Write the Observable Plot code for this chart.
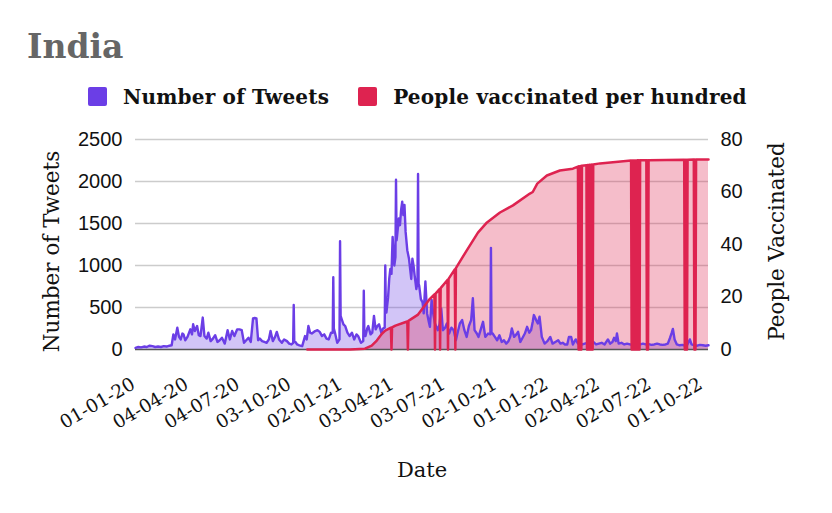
<!DOCTYPE html>
<html><head><meta charset="utf-8">
<script src="https://cdn.jsdelivr.net/npm/d3@7"></script>
<script src="https://cdn.jsdelivr.net/npm/@observablehq/plot@0.6"></script>
<style>
body{margin:0;background:#fff;width:832px;height:513px;position:relative;overflow:hidden}
#title{position:absolute;left:27px;top:30px;font:bold 33px/1 "DejaVu Serif";color:#666}
#legend{position:absolute;left:88px;top:87px;display:flex;align-items:center;height:19px}
.sw{width:19px;height:19px;border-radius:2px;margin-right:16px}
.lt{font:bold 20px/1 "DejaVu Serif";letter-spacing:0.2px;color:#111;margin-right:29px;white-space:nowrap}
#chart{position:absolute;left:0;top:120px}
</style></head><body>
<div id="title">India</div>
<div id="legend"></div>
<div id="chart"></div>
<script>
const seriesNames = ["Number of Tweets", "People vaccinated per hundred"];
const seriesColors = ["#6b3ee6", "#de2350"];

const tweetDates = ["2020-01-01","2020-01-06","2020-01-11","2020-01-16","2020-01-21","2020-01-26","2020-01-31","2020-02-05","2020-02-10","2020-02-15","2020-02-20","2020-02-25","2020-03-01","2020-03-05","2020-03-08","2020-03-11","2020-03-15","2020-03-18","2020-03-21","2020-03-24","2020-03-26","2020-03-29","2020-04-02","2020-04-07","2020-04-10","2020-04-12","2020-04-15","2020-04-19","2020-04-22","2020-04-25","2020-04-29","2020-05-02","2020-05-06","2020-05-09","2020-05-13","2020-05-17","2020-05-21","2020-05-25","2020-05-29","2020-06-02","2020-06-07","2020-06-12","2020-06-16","2020-06-20","2020-06-24","2020-06-29","2020-07-03","2020-07-07","2020-07-11","2020-07-15","2020-07-19","2020-07-23","2020-07-27","2020-07-30","2020-08-02","2020-08-05","2020-08-08","2020-08-12","2020-08-16","2020-08-20","2020-08-24","2020-08-27","2020-08-31","2020-09-04","2020-09-07","2020-09-11","2020-09-16","2020-09-20","2020-09-25","2020-09-29","2020-10-03","2020-10-06","2020-10-07","2020-10-08","2020-10-10","2020-10-13","2020-10-17","2020-10-22","2020-10-27","2020-10-30","2020-11-02","2020-11-05","2020-11-08","2020-11-14","2020-11-18","2020-11-22","2020-11-26","2020-11-30","2020-12-04","2020-12-08","2020-12-12","2020-12-15","2020-12-16","2020-12-17","2020-12-19","2020-12-23","2020-12-27","2020-12-28","2020-12-29","2020-12-31","2021-01-03","2021-01-06","2021-01-10","2021-01-14","2021-01-18","2021-01-22","2021-01-26","2021-01-29","2021-02-03","2021-02-07","2021-02-08","2021-02-09","2021-02-11","2021-02-14","2021-02-16","2021-02-20","2021-02-23","2021-02-26","2021-03-01","2021-03-04","2021-03-07","2021-03-11","2021-03-14","2021-03-17","2021-03-18","2021-03-19","2021-03-20","2021-03-23","2021-03-25","2021-03-27","2021-03-29","2021-03-31","2021-04-03","2021-04-05","2021-04-06","2021-04-07","2021-04-08","2021-04-11","2021-04-13","2021-04-15","2021-04-17","2021-04-19","2021-04-21","2021-04-23","2021-04-26","2021-04-29","2021-05-03","2021-05-05","2021-05-07","2021-05-09","2021-05-12","2021-05-14","2021-05-15","2021-05-16","2021-05-17","2021-05-20","2021-05-23","2021-05-25","2021-05-28","2021-05-31","2021-06-03","2021-06-05","2021-06-08","2021-06-11","2021-06-14","2021-06-19","2021-06-22","2021-06-25","2021-06-28","2021-07-02","2021-07-05","2021-07-09","2021-07-13","2021-07-17","2021-07-21","2021-07-24","2021-07-28","2021-08-01","2021-08-05","2021-08-09","2021-08-13","2021-08-17","2021-08-20","2021-08-23","2021-08-27","2021-08-30","2021-09-03","2021-09-07","2021-09-11","2021-09-16","2021-09-20","2021-09-21","2021-09-22","2021-09-24","2021-09-28","2021-10-02","2021-10-06","2021-10-10","2021-10-14","2021-10-18","2021-10-22","2021-10-25","2021-10-28","2021-11-01","2021-11-05","2021-11-08","2021-11-12","2021-11-16","2021-11-20","2021-11-24","2021-11-28","2021-12-01","2021-12-04","2021-12-06","2021-12-10","2021-12-13","2021-12-16","2021-12-20","2021-12-25","2021-12-30","2022-01-04","2022-01-08","2022-01-13","2022-01-18","2022-01-22","2022-01-26","2022-01-30","2022-02-03","2022-02-06","2022-02-10","2022-02-13","2022-02-18","2022-02-22","2022-02-26","2022-03-02","2022-03-06","2022-03-11","2022-03-16","2022-03-21","2022-03-26","2022-03-31","2022-04-05","2022-04-10","2022-04-16","2022-04-20","2022-04-24","2022-04-27","2022-04-30","2022-05-02","2022-05-05","2022-05-10","2022-05-15","2022-05-20","2022-05-25","2022-05-30","2022-06-03","2022-06-05","2022-06-06","2022-06-07","2022-06-08","2022-06-12","2022-06-17","2022-06-22","2022-06-27","2022-07-02","2022-07-07","2022-07-12","2022-07-17","2022-07-22","2022-07-27","2022-07-31","2022-08-04","2022-08-07","2022-08-09","2022-08-12","2022-08-16","2022-08-21","2022-08-26","2022-08-30","2022-09-03","2022-09-08","2022-09-11","2022-09-16","2022-09-21","2022-09-26","2022-10-01","2022-10-06","2022-10-11"];
const tweetCounts = [20,30,25,35,30,45,40,30,35,30,40,35,45,50,180,120,260,150,120,190,180,110,150,240,180,300,220,280,170,160,380,160,130,200,100,130,170,90,110,140,70,230,120,220,160,240,240,230,80,110,140,90,370,375,370,110,130,100,90,80,120,220,100,150,210,120,80,120,100,70,60,80,530,90,90,60,50,40,160,120,280,200,190,220,230,210,160,180,130,120,200,200,860,250,200,80,120,1290,400,360,300,280,200,160,200,120,180,160,80,100,700,200,160,250,280,180,200,400,240,280,300,200,250,260,1000,500,440,620,840,960,900,1340,1000,1100,2020,1300,1360,1560,1480,1660,1760,1600,1720,1400,1180,1080,840,1080,1000,880,720,800,2090,780,760,600,560,430,810,430,330,270,590,420,310,230,300,490,230,260,310,190,260,230,110,200,310,350,230,150,280,350,610,230,190,150,240,330,150,190,180,1210,200,190,150,110,170,90,110,70,100,150,250,150,180,210,90,140,190,270,200,230,330,410,350,310,390,150,70,100,150,70,90,110,70,80,60,60,150,150,60,120,70,80,60,70,80,60,90,60,70,80,60,120,70,90,140,100,190,70,80,60,70,60,60,80,70,620,90,80,60,70,60,65,55,60,70,60,55,60,70,140,200,245,120,60,50,55,45,50,120,60,50,45,55,50,45,50];

const vaccDates = ["2020-10-31","2021-01-15","2021-02-10","2021-02-22","2021-03-03","2021-03-12","2021-03-18","2021-03-28","2021-03-29","2021-03-30","2021-04-05","2021-04-22","2021-04-26","2021-04-27","2021-04-28","2021-05-15","2021-05-26","2021-06-05","2021-06-13","2021-06-14","2021-06-15","2021-06-22","2021-06-23","2021-06-24","2021-07-06","2021-07-07","2021-07-08","2021-07-19","2021-07-20","2021-07-21","2021-08-09","2021-08-29","2021-09-14","2021-10-07","2021-10-30","2021-11-29","2021-12-04","2021-12-12","2021-12-29","2022-01-21","2022-02-13","2022-02-22","2022-02-23","2022-02-24","2022-02-26","2022-02-27","2022-02-28","2022-03-01","2022-03-09","2022-03-10","2022-03-11","2022-03-12","2022-03-13","2022-03-14","2022-03-15","2022-03-16","2022-03-17","2022-03-18","2022-03-19","2022-03-20","2022-03-21","2022-04-02","2022-05-27","2022-05-28","2022-05-29","2022-05-30","2022-05-31","2022-06-01","2022-06-02","2022-06-03","2022-06-04","2022-06-05","2022-06-06","2022-06-07","2022-06-08","2022-06-09","2022-06-10","2022-06-11","2022-06-12","2022-06-23","2022-06-24","2022-06-25","2022-06-26","2022-06-27","2022-08-29","2022-08-30","2022-08-31","2022-09-01","2022-09-02","2022-09-03","2022-09-04","2022-09-15","2022-09-16","2022-09-17","2022-09-18","2022-09-19","2022-10-11"];
const vaccValues = [0,0,0.3,1.5,3.4,6.0,7.2,8.3,0,8.4,9.1,10.4,10.7,0,10.9,13.3,16.5,19.3,21.0,0,21.3,23.0,0,23.4,26.5,0,26.9,30.5,0,31.0,37.7,44.5,48.4,52.2,54.9,59.4,60.0,63.2,66.3,68.2,68.9,69.7,0,69.8,0,69.9,0,70.0,70.2,0,70.3,0,70.3,0,70.4,0,70.4,0,70.5,0,70.5,70.9,72.0,0,72.0,0,72.0,0,72.0,0,72.0,0,72.0,0,72.1,0,72.1,0,72.1,72.1,0,72.1,0,72.1,72.3,0,72.3,0,72.3,0,72.3,72.4,0,72.4,0,72.4,72.4];

const leftTicks = [0, 500, 1000, 1500, 2000, 2500];
const rightTicks = [0, 20, 40, 60, 80];
const xTickDates = ["2020-01-01","2020-04-04","2020-07-04","2020-10-03","2021-01-02","2021-04-03","2021-07-03","2021-10-02","2022-01-01","2022-04-02","2022-07-02","2022-10-01"];
const xTickLabels = ["01-01-20","04-04-20","04-07-20","03-10-20","02-01-21","03-04-21","03-07-21","02-10-21","01-01-22","02-04-22","02-07-22","01-10-22"];
const xDomain = ["2020-01-01", "2022-10-11"];
const axisTitles = {left: "Number of Tweets", right: "People Vaccinated", bottom: "Date"};

const parse = d3.utcParse("%Y-%m-%d");
const k = leftTicks[leftTicks.length - 1] / rightTicks[rightTicks.length - 1];
const tweets = tweetDates.map((d, i) => ({date: parse(d), n: tweetCounts[i]}));
const vacc = vaccDates.map((d, i) => ({date: parse(d), v: vaccValues[i]}));
const xticks = xTickDates.map((d, i) => ({date: parse(d), label: xTickLabels[i]}));
const vy = d => d.v == null ? NaN : d.v * k;

const legend = document.getElementById("legend");
seriesNames.forEach((name, i) => {
  const sw = document.createElement("div");
  sw.className = "sw"; sw.style.background = seriesColors[i];
  const t = document.createElement("div");
  t.className = "lt"; t.textContent = name;
  legend.append(sw, t);
});

const serif = "DejaVu Serif";
const chart = Plot.plot({
  width: 832, height: 393,
  marginLeft: 135, marginRight: 124, marginTop: 19, marginBottom: 164,
  x: {type: "utc", domain: xDomain.map(parse), axis: null},
  y: {domain: [0, 2500]},
  style: {fontFamily: "Liberation Sans", fontSize: "20px", color: "#111", background: "#fff", overflow: "visible"},
  marks: [
    Plot.gridY(leftTicks.filter(t => t > 0), {stroke: "#cccccc", strokeOpacity: 1, strokeWidth: 1.5}),
    Plot.areaY(tweets, {x: "date", y: "n", fill: seriesColors[0], fillOpacity: 0.3}),
    Plot.areaY(vacc, {x: "date", y: vy, fill: seriesColors[1], fillOpacity: 0.3}),
    Plot.ruleY([0], {stroke: "#555", strokeWidth: 1.5}),
    Plot.lineY(tweets, {x: "date", y: "n", stroke: seriesColors[0], strokeWidth: 2.4}),
    Plot.lineY(vacc, {x: "date", y: vy, stroke: seriesColors[1], strokeWidth: 2.5}),
    Plot.axisY(leftTicks, {anchor: "left", tickSize: 0, tickPadding: 13, label: null, tickFormat: d => String(d)}),
    Plot.axisY(rightTicks.map(t => t * k), {anchor: "right", tickSize: 0, tickPadding: 12, label: null, tickFormat: d => String(Math.round(d / k))}),
    Plot.text(xticks, {x: "date", text: "label", frameAnchor: "bottom", rotate: -30, textAnchor: "end", lineAnchor: "middle", dx: -2, dy: 33, fontFamily: serif, fontSize: 18.5, fill: "#111"}),
    Plot.text([axisTitles.left], {frameAnchor: "left", textAnchor: "middle", lineAnchor: "middle", dx: -83, dy: 7, rotate: -90, fontFamily: serif, fontSize: 21.5, fill: "#111"}),
    Plot.text([axisTitles.right], {frameAnchor: "right", textAnchor: "middle", lineAnchor: "middle", dx: 69, dy: -3, rotate: -90, fontFamily: serif, fontSize: 21.5, fill: "#111"}),
    Plot.text([axisTitles.bottom], {frameAnchor: "bottom", textAnchor: "middle", lineAnchor: "middle", dy: 121, fontFamily: serif, fontSize: 21, fill: "#111"})
  ]
});
document.getElementById("chart").append(chart);
</script>
</body></html>
